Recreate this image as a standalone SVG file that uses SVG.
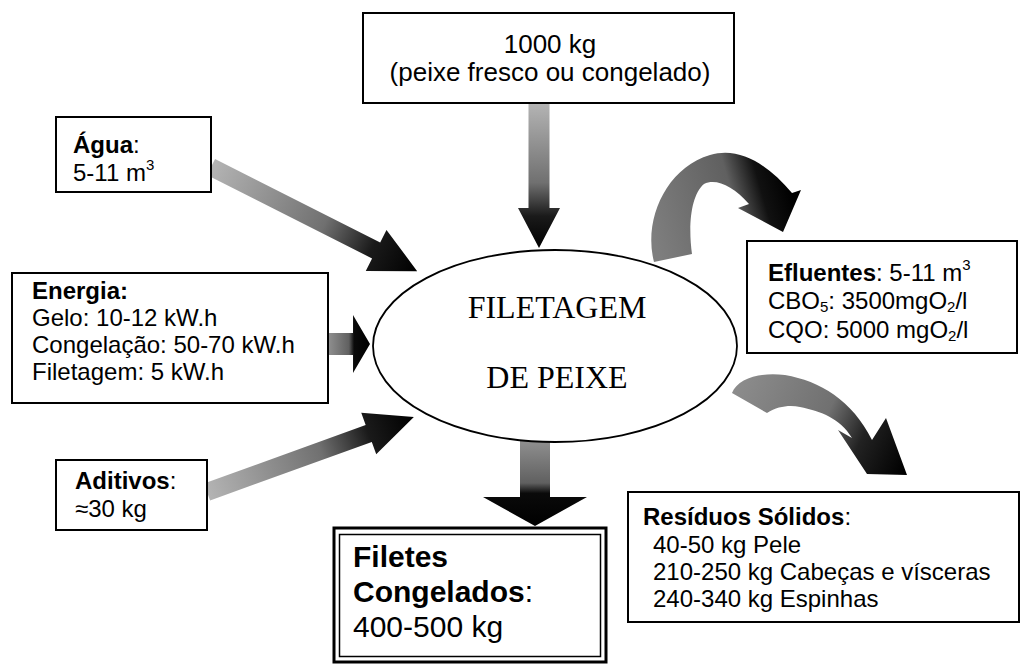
<svg xmlns="http://www.w3.org/2000/svg" width="1022" height="666" viewBox="0 0 1022 666">
<style>
.box{fill:#fff;stroke:#000;stroke-width:2}
.t{font-family:"Liberation Sans",Arial,sans-serif;font-size:24px;fill:#000}
.b{font-weight:bold}
.big{font-size:30px}
.serif{font-family:"Liberation Serif","Times New Roman",serif;font-size:32px;fill:#000}
</style>
<defs>
<linearGradient id="gLin" x1="0" y1="0" x2="1" y2="0">
<stop offset="0" stop-color="#b4b4b4"/>
<stop offset="0.55" stop-color="#707070"/>
<stop offset="0.78" stop-color="#1a1a1a"/>
<stop offset="1" stop-color="#000"/>
</linearGradient>
<linearGradient id="gShort" x1="0" y1="0" x2="1" y2="0">
<stop offset="0" stop-color="#909090"/>
<stop offset="0.5" stop-color="#606060"/>
<stop offset="0.62" stop-color="#0a0a0a"/>
<stop offset="1" stop-color="#000"/>
</linearGradient>
<linearGradient id="gEff" gradientUnits="userSpaceOnUse" x1="660" y1="260" x2="800" y2="220">
<stop offset="0" stop-color="#7e7e7e"/>
<stop offset="0.6" stop-color="#606060"/>
<stop offset="0.8" stop-color="#111"/>
<stop offset="1" stop-color="#000"/>
</linearGradient>
<linearGradient id="gRes" gradientUnits="userSpaceOnUse" x1="735" y1="390" x2="905" y2="470">
<stop offset="0" stop-color="#8c8c8c"/>
<stop offset="0.5" stop-color="#707070"/>
<stop offset="0.72" stop-color="#222"/>
<stop offset="1" stop-color="#000"/>
</linearGradient>
</defs>

<g id="connectors">
<polygon transform="translate(539,103) rotate(90)" fill="url(#gLin)" points="0,-10.5 105,-10.5 105,-21 145,0 105,21 105,10.5 0,10.5"/>
<polygon transform="translate(211,167) rotate(26.8)" fill="url(#gLin)" points="0,-9 185,-9 185,-23 231,0 185,23 185,9 0,9"/>
<polygon transform="translate(328,344)" fill="url(#gShort)" points="0,-11 25,-11 25,-29 42,0 25,29 25,11 0,11"/>
<polygon transform="translate(207,492) rotate(-19.9)" fill="url(#gLin)" points="0,-9 172,-9 172,-22 220,0 172,22 172,9 0,9"/>
<polygon transform="translate(535,440) rotate(90)" fill="url(#gShort)" points="0,-15 57,-15 57,-52 86,0 57,52 57,15 0,15"/>
<path fill="url(#gEff)" d="M654,262 C643,220 666,168 710,155 C740,146 768,165 792,193 L801,190 L783,232 L738,208 L749,204 C733,186 716,178 704,184 C691,195 688,225 692,254 Z"/>
<path fill="url(#gRes)" d="M732,393 C738,378 760,372 785,375 C820,381 852,400 872,440 L886,418 L907,475 L867,474 L838,430 L852,438 C840,418 820,411 800,407 C790,405 778,406 767,413 Z"/>
</g>

<g id="n-input">
<rect class="box" x="363" y="13" width="371" height="90"/>
<text class="t" x="550" y="53" text-anchor="middle" style="font-size:26px">1000 kg</text>
<text class="t" x="550" y="81" text-anchor="middle" style="font-size:26px">(peixe fresco ou congelado)</text>
</g>

<g id="n-agua">
<rect class="box" x="56" y="117" width="155" height="75"/>
<text class="t" x="73" y="153"><tspan class="b">Água</tspan>:</text>
<text class="t" x="73" y="181">5-11 m<tspan font-size="15" dy="-11">3</tspan></text>
</g>

<g id="n-energia">
<rect class="box" x="12" y="273" width="316" height="130"/>
<text class="t b" x="32" y="299">Energia:</text>
<text class="t" x="32" y="326">Gelo: 10-12 kW.h</text>
<text class="t" x="32" y="353">Congelação: 50-70 kW.h</text>
<text class="t" x="32" y="380">Filetagem: 5 kW.h</text>
</g>

<g id="n-aditivos">
<rect class="box" x="56" y="460" width="151" height="70"/>
<text class="t" x="75" y="489"><tspan class="b">Aditivos</tspan>:</text>
<text class="t" x="75" y="517">≈30 kg</text>
</g>

<g id="n-process">
<ellipse cx="555" cy="346" rx="182" ry="96" fill="#fff" stroke="#000" stroke-width="1.8"/>
<text class="serif" x="557" y="318" text-anchor="middle">FILETAGEM</text>
<text class="serif" x="557" y="388" text-anchor="middle">DE PEIXE</text>
</g>

<g id="n-efluentes">
<rect class="box" x="747" y="241" width="270" height="112"/>
<text class="t" x="768" y="281"><tspan class="b">Efluentes</tspan>: 5-11 m<tspan font-size="15" dy="-11">3</tspan></text>
<text class="t" x="768" y="309">CBO<tspan font-size="15" dy="3">5</tspan><tspan dy="-3">: 3500mgO</tspan><tspan font-size="15" dy="3">2</tspan><tspan dy="-3">/l</tspan></text>
<text class="t" x="768" y="338">CQO: 5000 mgO<tspan font-size="15" dy="3">2</tspan><tspan dy="-3">/l</tspan></text>
</g>

<g id="n-residuos">
<rect class="box" x="628" y="492" width="391" height="130"/>
<text class="t" x="643" y="525"><tspan class="b">Resíduos Sólidos</tspan>:</text>
<text class="t" x="653" y="553">40-50 kg Pele</text>
<text class="t" x="653" y="580">210-250 kg Cabeças e vísceras</text>
<text class="t" x="653" y="607">240-340 kg Espinhas</text>
</g>

<g id="n-filetes">
<rect x="334" y="528" width="272" height="134" fill="#fff" stroke="#000" stroke-width="3"/>
<rect x="339.5" y="534.5" width="261" height="122" fill="none" stroke="#000" stroke-width="1.5"/>
<text class="t big b" x="353" y="567">Filetes</text>
<text class="t big" x="353" y="602"><tspan class="b">Congelados</tspan>:</text>
<text class="t big" x="353" y="637">400-500 kg</text>
</g>
</svg>
